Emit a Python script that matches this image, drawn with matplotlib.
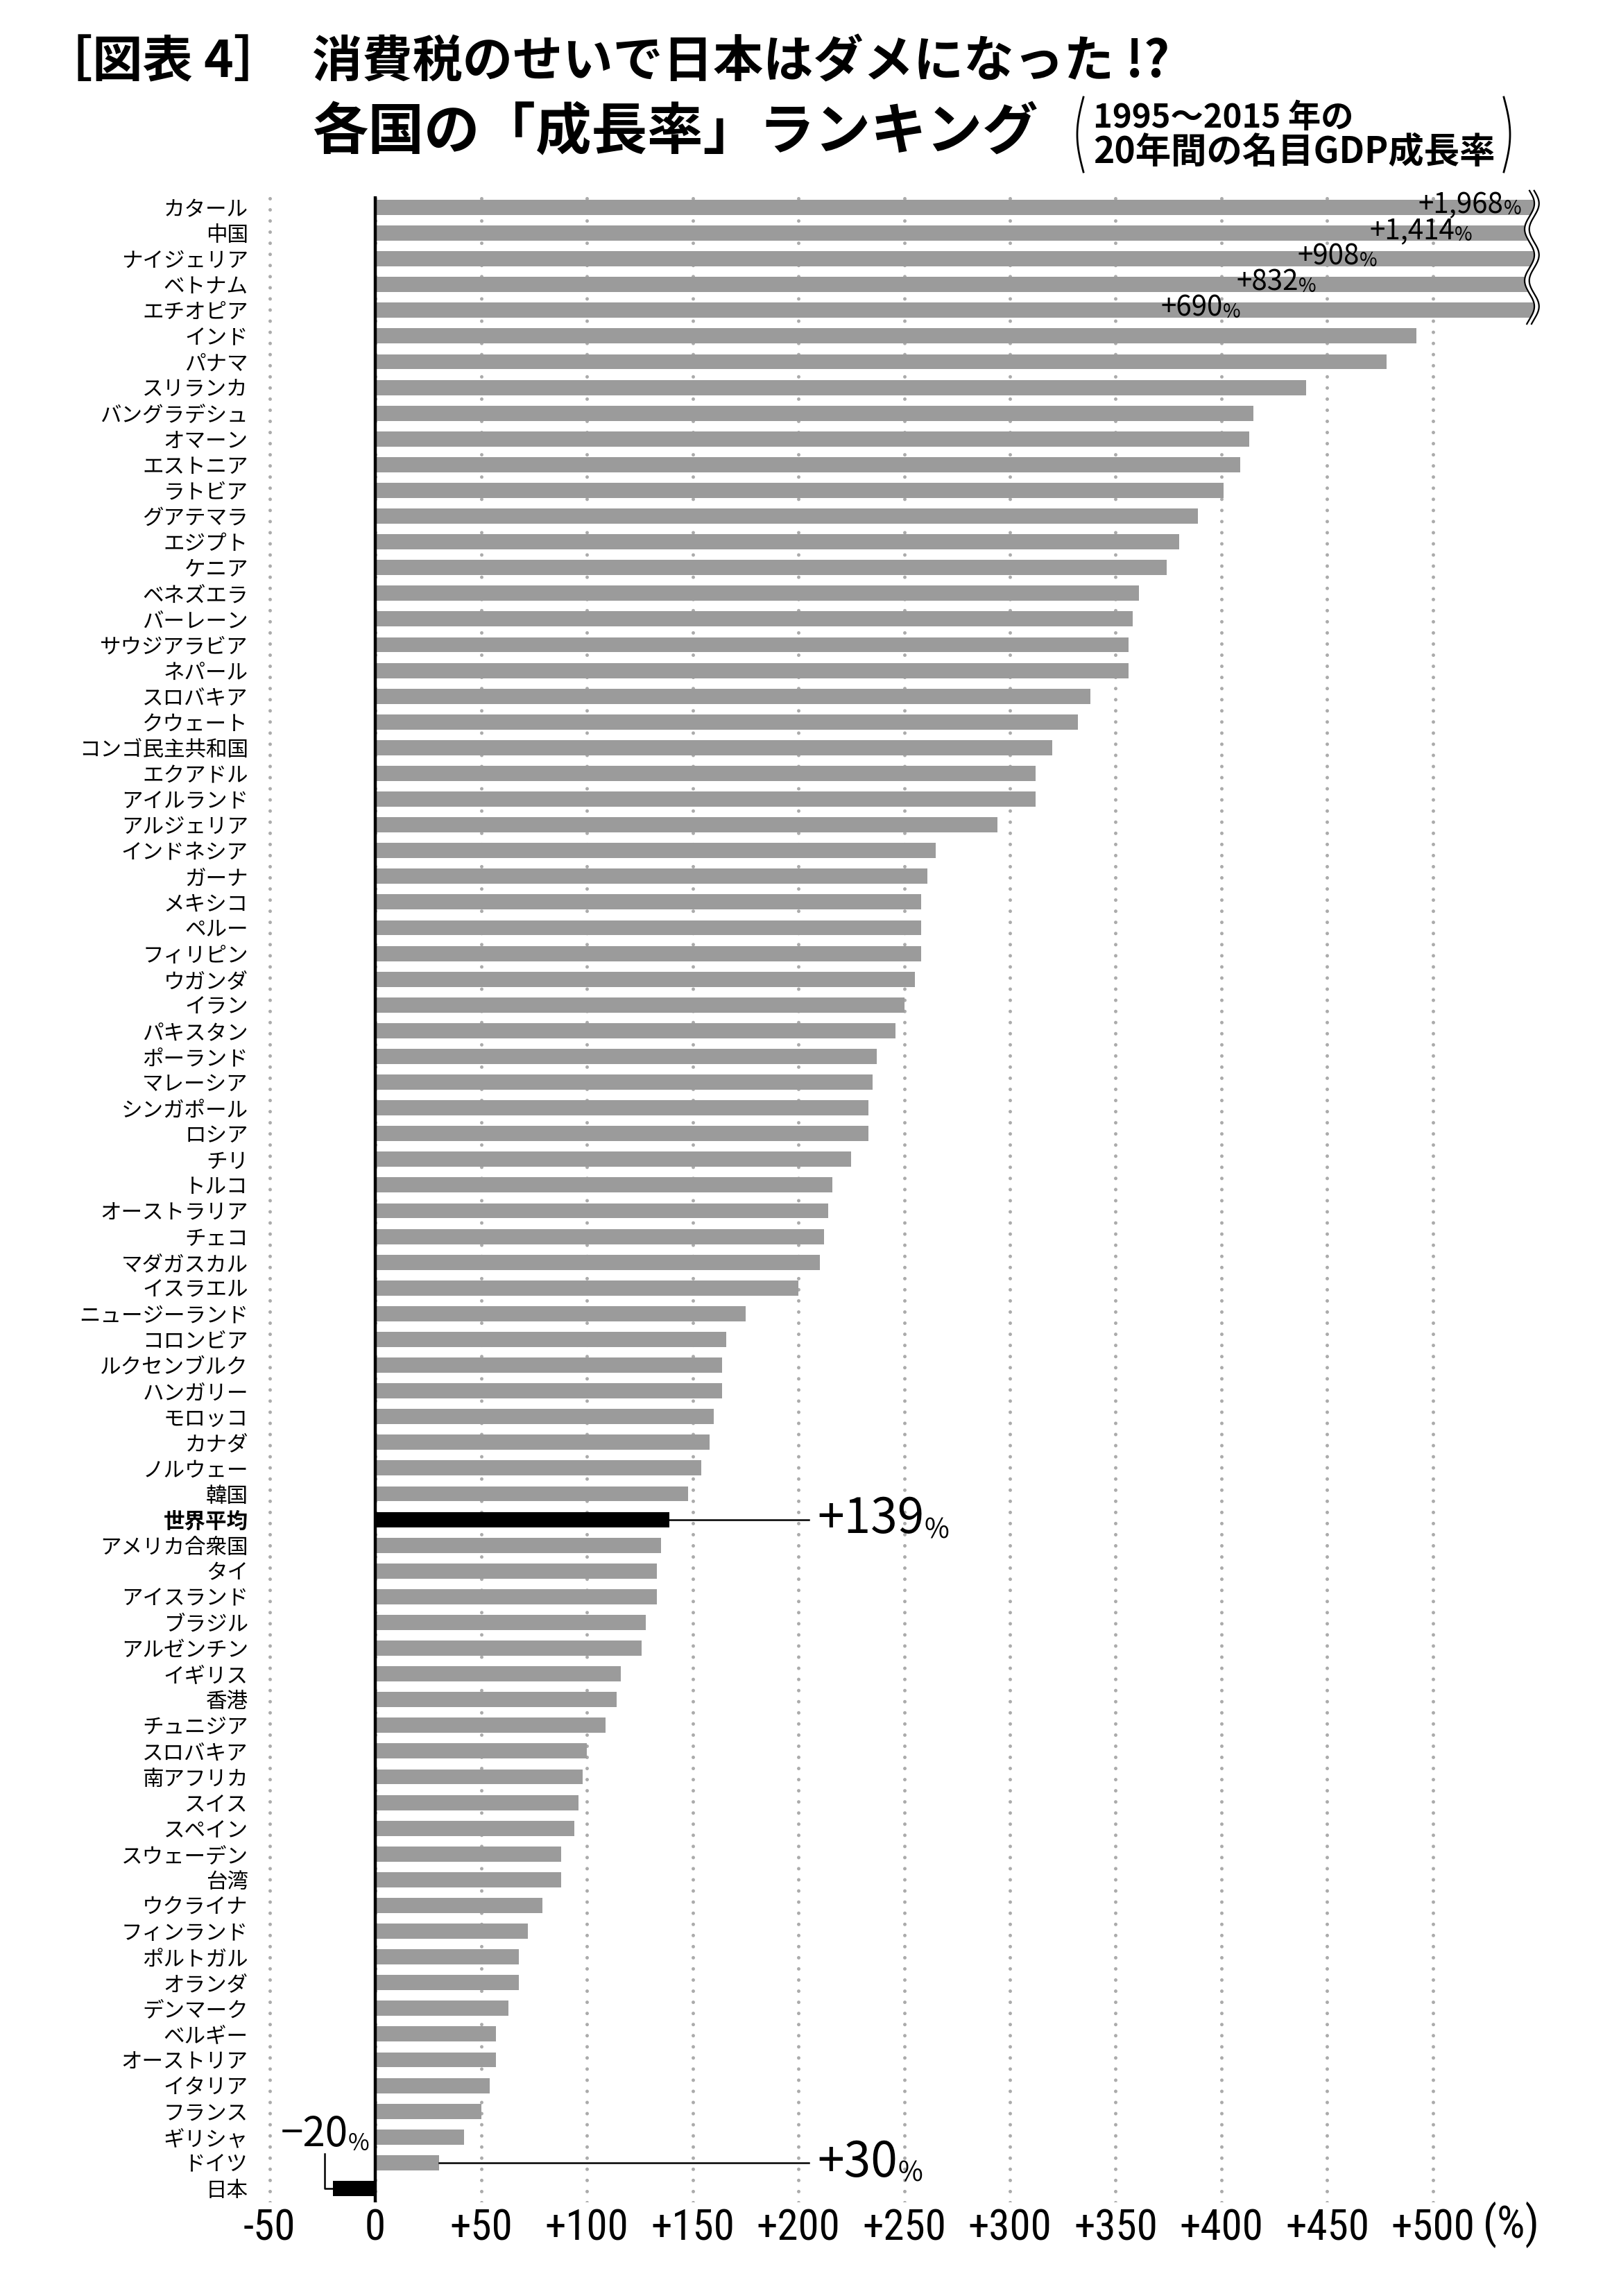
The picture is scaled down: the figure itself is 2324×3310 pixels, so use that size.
import numpy as np
from matplotlib import pyplot as plt
from matplotlib import font_manager
from matplotlib.lines import Line2D


# 1995-2015 nominal GDP growth (%), top to bottom as in the chart
countries = [
    "カタール", "中国", "ナイジェリア", "ベトナム", "エチオピア", "インド", "パナマ", "スリランカ",
    "バングラデシュ", "オマーン", "エストニア", "ラトビア", "グアテマラ", "エジプト", "ケニア",
    "ベネズエラ", "バーレーン", "サウジアラビア", "ネパール", "スロバキア", "クウェート",
    "コンゴ民主共和国", "エクアドル", "アイルランド", "アルジェリア", "インドネシア", "ガーナ",
    "メキシコ", "ペルー", "フィリピン", "ウガンダ", "イラン", "パキスタン", "ポーランド",
    "マレーシア", "シンガポール", "ロシア", "チリ", "トルコ", "オーストラリア", "チェコ",
    "マダガスカル", "イスラエル", "ニュージーランド", "コロンビア", "ルクセンブルク", "ハンガリー",
    "モロッコ", "カナダ", "ノルウェー", "韓国", "世界平均", "アメリカ合衆国", "タイ", "アイスランド",
    "ブラジル", "アルゼンチン", "イギリス", "香港", "チュニジア", "スロバキア", "南アフリカ",
    "スイス", "スペイン", "スウェーデン", "台湾", "ウクライナ", "フィンランド", "ポルトガル",
    "オランダ", "デンマーク", "ベルギー", "オーストリア", "イタリア", "フランス", "ギリシャ",
    "ドイツ", "日本",
]
growth = [
    1968, 1414, 908, 832, 690, 492, 478, 440,
    415, 413, 409, 401, 389, 380, 374,
    361, 358, 356, 356, 338, 332,
    320, 312, 312, 294, 265, 261,
    258, 258, 258, 255, 250, 246, 237,
    235, 233, 233, 225, 216, 214, 212,
    210, 200, 175, 166, 164, 164,
    160, 158, 154, 148, 139, 135, 133, 133,
    128, 126, 116, 114, 109, 100, 98,
    96, 94, 88, 88, 79, 72, 68,
    68, 63, 57, 57, 54, 50, 42,
    30, -20,
]
highlight = ["世界平均", "日本"]
broken = 5  # first five bars run past the axis break

xticks = list(range(-50, 501, 50))
xticklabels = ["0" if v == 0 else f"{v:+d}" for v in xticks]

JP = "Noto Sans CJK JP"
plt.rcParams["font.family"] = [JP, "DejaVu Sans"]
installed = {f.name for f in font_manager.fontManager.ttflist}
NARROW = next((n for n in ("Roboto Condensed", "Liberation Sans Narrow", "Open Sans Condensed") if n in installed), None)

W, H = 2324, 3310
fig = plt.figure(figsize=(W / 200, H / 200), dpi=200)

# plot area in pixels
left, right, top, bottom = 380, 2227, 283, 3175
ax = fig.add_axes([left / W, 1 - bottom / H, (right - left) / W, (bottom - top) / H])

n = len(countries)
rows = np.arange(n)
colors = ["black" if c in highlight else "#9b9b9b" for c in countries]
ax.barh(rows, growth, height=0.59, color=colors, zorder=2)

ax.set_xlim(-52.8, 552.8)
ax.set_ylim(n - 0.46, -0.43)

for x in xticks:
    ax.axvline(x, color="#ababab", lw=1.8, ls=(0, (0.01, 3.2)), dash_capstyle="round", zorder=1)
ax.axvline(0, color="black", lw=1.6, zorder=3)

for s in ax.spines.values():
    s.set_visible(False)

ax.set_yticks(rows, countries)
ax.tick_params(axis="y", length=0, pad=8, labelsize=11)
for lab in ax.get_yticklabels():
    if lab.get_text() == "世界平均":
        lab.set_fontweight("bold")

ax.set_xticks(xticks, xticklabels)
if NARROW:
    ax.tick_params(axis="x", length=0, pad=3, labelsize=22)
    for lab in ax.get_xticklabels():
        lab.set_family(NARROW)
else:
    ax.tick_params(axis="x", length=0, pad=3, labelsize=18)
ax.text(537, n + 0.42, "(%)", ha="center", va="center", fontsize=23,
        family=NARROW or JP, clip_on=False)


def pct_label(x, y, num, size, psize, ha="left"):
    t = ax.text(x, y, num, ha=ha, va="center", fontsize=size, zorder=7, clip_on=False)
    ax.annotate("%", xy=(1, 0), xycoords=t, ha="left", va="bottom", fontsize=psize, zorder=7)
    return t


# values for the broken bars
edges = [533.4, 510.2, 465.1, 436.5, 400.5]
for i in range(broken):
    pct_label(edges[i], i - 0.08, f"+{growth[i]:,}", 14.5, 10, ha="right")

# axis break: white band between two wavy lines
yy = np.linspace(-0.65, broken - 0.47, 200)
xw = 545.6 + 2.3 * np.sin(2 * np.pi * (yy + 0.65) / 2.0)
ax.fill_betweenx(yy, xw, 570, color="white", zorder=5, clip_on=False)
ax.plot(xw, yy, color="black", lw=0.8, zorder=6, clip_on=False)
ax.plot(xw + 2.2, yy, color="black", lw=0.8, zorder=6, clip_on=False)

# world average and Germany callouts
iw = countries.index("世界平均")
ide = countries.index("ドイツ")
ijp = countries.index("日本")
for i in (iw, ide):
    ax.plot([growth[i], 205], [i, i], color="black", lw=0.9, zorder=3)
    pct_label(209, i, f"+{growth[i]}", 25, 14)

# Japan callout
ax.plot([-24, -24, growth[ijp]], [ijp - 1.35, ijp, ijp], color="black", lw=0.9, zorder=3, clip_on=False)
pct_label(-13, ijp - 2.1, f"−{abs(growth[ijp])}", 21, 12, ha="right")

# titles
fig.text(61 / W, 1 - 90 / H, "［図表 4］", fontsize=26, fontweight="bold", va="center")
fig.text(450 / W, 1 - 90 / H, "消費税のせいで日本はダメになった !?", fontsize=26, fontweight="bold", va="center")
fig.text(450 / W, 1 - 192 / H, "各国の「成長率」ランキング", fontsize=29, fontweight="bold", va="center")
fig.text(1576 / W, 1 - 170 / H, "1995～2015 年の", fontsize=17, fontweight="bold", va="center")
fig.text(1576 / W, 1 - 219 / H, "20年間の名目GDP成長率", fontsize=18.5, fontweight="bold", va="center")

t = np.linspace(0, 1, 60)
py = 140 + 108 * t
for x0, sign in ((1562, -1), (2168, 1)):
    px = x0 + sign * 9 * np.sin(np.pi * t)
    fig.add_artist(Line2D(px / W, 1 - py / H, color="black", lw=1.0))

fig.savefig("out.png", dpi=200)
